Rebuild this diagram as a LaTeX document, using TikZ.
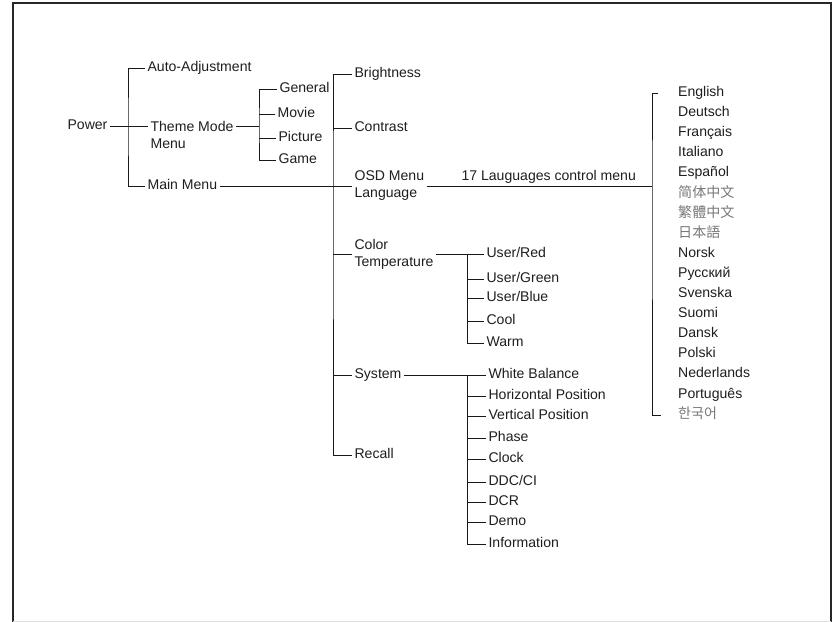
\documentclass[tikz,border=0pt]{standalone}
\usepackage{fontspec}
\setmainfont{Liberation Sans}
\newfontfamily\cjkfont{Noto Sans CJK SC}
\usetikzlibrary{positioning}
\definecolor{menuline}{RGB}{25,25,25}
\definecolor{menutext}{RGB}{30,30,30}
\definecolor{cjkgray}{RGB}{120,120,120}

\begin{document}
\begin{tikzpicture}[x=0.03cm, y=-0.03cm,
    item/.style={anchor=mid west, inner xsep=2pt, inner ysep=1pt, text=menutext,
                 font=\fontsize{12}{14.5}\selectfont},
    itemc/.style={item, align=left, anchor=west},
    lang/.style={item, inner xsep=8.5pt},
    cjk/.style={lang, text=cjkgray, font=\fontsize{12}{14.5}\selectfont\cjkfont},
    wire/.style={draw=menuline, line width=0.8pt}]
    \useasboundingbox (0,0) rectangle (833,622);
    % frame
    \draw[line width=1.2pt, black!85] (13,622) -- (13,3) -- (831,3) -- (831,622);
    \draw[black!12] (13,621) -- (831,621);

    % first level
    \node[item] (power) at (65,126) {Power};
    \node[item] (auto) at (145,68) {Auto-Adjustment};
    \node[itemc] (theme) at (148,134.5) {Theme Mode\\Menu};
    \node[item] (mainm) at (145,186) {Main Menu};
    \coordinate (pj) at (128,126);

    % theme modes
    \node[item] (general) at (277,89) {General};
    \node[item] (movie) at (275,114) {Movie};
    \node[item] (picture) at (276,138) {Picture};
    \node[item] (game) at (276,160) {Game};
    \coordinate (tj) at (259,126);

    % main menu
    \node[item] (bright) at (352,74) {Brightness};
    \node[item] (contrast) at (352,128) {Contrast};
    \node[itemc] (osd) at (352,186) {OSD Menu\\Language};
    \node[itemc] (color) at (352,254) {Color\\Temperature};
    \node[item] (system) at (352,375) {System};
    \node[item] (recall) at (352,455) {Recall};
    \coordinate (mj) at (333,186);

    % color temperature
    \node[item] (ured) at (484,254) {User/Red};
    \node[item] (ugreen) at (484,279) {User/Green};
    \node[item] (ublue) at (484,298) {User/Blue};
    \node[item] (cool) at (484,321) {Cool};
    \node[item] (warm) at (484,343) {Warm};
    \coordinate (cj) at (467,254);

    % system
    \node[item] (wbal) at (486,375) {White Balance};
    \node[item] (hpos) at (486,396) {Horizontal Position};
    \node[item] (vpos) at (486,416) {Vertical Position};
    \node[item] (phase) at (486,438) {Phase};
    \node[item] (clock) at (486,459) {Clock};
    \node[item] (ddc) at (486,482) {DDC/CI};
    \node[item] (dcr) at (486,502) {DCR};
    \node[item] (demo) at (486,522) {Demo};
    \node[item] (info) at (486,544) {Information};
    \coordinate (sj) at (467,375);

    % languages
    \node[item] (ctlmenu) at (459,177) {17 Lauguages control menu};
    \node[lang] (english) at (668,93) {English};
    \node[lang] (deutsch) at (668,113) {Deutsch};
    \node[lang] (francais) at (668,133) {Français};
    \node[lang] (italiano) at (668,153) {Italiano};
    \node[lang] (espanol) at (668,173) {Español};
    \node[cjk] (schinese) at (668,194) {简体中文};
    \node[cjk] (tchinese) at (668,214) {繁體中文};
    \node[cjk] (japanese) at (668,234) {日本語};
    \node[lang] (norsk) at (668,254) {Norsk};
    \node[lang] (russian) at (668,274) {Русский};
    \node[lang] (svenska) at (668,294) {Svenska};
    \node[lang] (suomi) at (668,314) {Suomi};
    \node[lang] (dansk) at (668,334) {Dansk};
    \node[lang] (polski) at (668,354) {Polski};
    \node[lang] (nederl) at (668,374) {Nederlands};
    \node[lang] (portug) at (668,395) {Português};
    \node[cjk] (korean) at (668,415) {한국어};
    \coordinate (lj) at (652,186);

    % connectors
    \draw[wire] (power.mid east) -- (power.mid east -| theme.west);
    \draw[wire] (auto.mid west) -| (pj) |- (mainm.mid west);
    \draw[wire] (theme.east |- tj) -- (tj);
    \draw[wire] (general.mid west) -| (tj) |- (game.mid west);
    \draw[wire] (movie.mid west) -- (movie.mid west -| tj);
    \draw[wire] (picture.mid west) -- (picture.mid west -| tj);
    \draw[wire] (mainm.mid east) -- (osd.west);
    \draw[wire] (bright.mid west) -| (mj) |- (recall.mid west);
    \draw[wire] (contrast.mid west) -- (contrast.mid west -| mj);
    \draw[wire] (color.west) -- (color.west -| mj);
    \draw[wire] (system.mid west) -- (system.mid west -| mj);
    \draw[wire] (color.east) -- (ured.mid west);
    \draw[wire] (cj) |- (warm.mid west);
    \draw[wire] (ugreen.mid west) -- (ugreen.mid west -| cj);
    \draw[wire] (ublue.mid west) -- (ublue.mid west -| cj);
    \draw[wire] (cool.mid west) -- (cool.mid west -| cj);
    \draw[wire] (system.mid east) -- (wbal.mid west);
    \draw[wire] (sj) |- (info.mid west);
    \draw[wire] (hpos.mid west) -- (hpos.mid west -| sj);
    \draw[wire] (vpos.mid west) -- (vpos.mid west -| sj);
    \draw[wire] (phase.mid west) -- (phase.mid west -| sj);
    \draw[wire] (clock.mid west) -- (clock.mid west -| sj);
    \draw[wire] (ddc.mid west) -- (ddc.mid west -| sj);
    \draw[wire] (dcr.mid west) -- (dcr.mid west -| sj);
    \draw[wire] (demo.mid west) -- (demo.mid west -| sj);
    \draw[wire] (osd.east) -- (lj);
    \draw[wire] (english.mid west) ++(-8.5pt,0) -| (lj) |- ([xshift=-6pt]korean.mid west);
\end{tikzpicture}
\end{document}
